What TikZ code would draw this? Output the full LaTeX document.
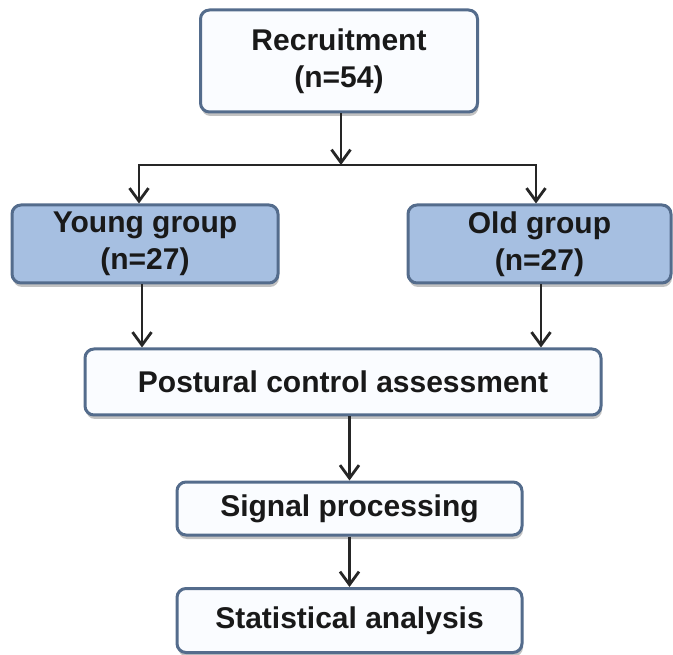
\documentclass[tikz,border=0pt]{standalone}
\usepackage{fontspec}
\setmainfont{Liberation Sans}
\usetikzlibrary{positioning, arrows.meta, shadows}

\definecolor{boxline}{RGB}{84,108,140}
\definecolor{groupfill}{RGB}{166,191,225}
\definecolor{stagefill}{RGB}{250,252,255}

\begin{document}
\begin{tikzpicture}[
    x=1pt, y=-1pt,
    % Define styles
    base/.style={rectangle, draw=boxline, line width=3pt, rounded corners=9pt, align=center,
        inner sep=0pt, text=black!90, font=\bfseries\fontsize{30}{37}\selectfont,
        drop shadow={shadow xshift=1pt, shadow yshift=-4pt, opacity=0.4, fill=black!60}},
    stage/.style={base, fill=stagefill},
    group/.style={base, fill=groupfill},
    arrow/.style={-{Straight Barb[length=13pt, width=19pt]}, line width=2.8pt, black!85}
]
    \useasboundingbox (0,0) rectangle (673,655);

    % --- TOP LEVEL ---
    \node (recruit) [stage, minimum width=277pt, minimum height=102pt] at (339,61) {Recruitment\\(n=54)};

    % --- THE SPLIT ---
    \node (young) [group, minimum width=266pt, minimum height=78pt] at (145,244) {Young group\\(n=27)};
    \node (old) [group, minimum width=263pt, minimum height=78pt] at (539.5,244) {Old group\\(n=27)};

    % --- PROCESSING LAYER ---
    \node (postural) [stage, minimum width=516pt, minimum height=66pt] at (343,382) {Postural control assessment};
    \node (signal) [stage, minimum width=345pt, minimum height=53pt] at (349.5,508.5) {Signal processing};
    \node (stats) [stage, minimum width=345pt, minimum height=64pt] at (349.5,620.5) {Statistical analysis};

    \coordinate (split) at (341,165);

    % --- DRAW CONNECTIONS ---
    \draw [arrow] ([xshift=2pt]recruit.south) -- (split);
    \draw [arrow] (split) -| ([xshift=-6pt]young.north);
    \draw [arrow] (split) -| ([xshift=-3.5pt]old.north);

    % Merging into the assessment
    \draw [arrow] ([xshift=-3pt]young.south) -- ([xshift=-3pt]young.south |- postural.north);
    \draw [arrow] ([xshift=1.5pt]old.south) -- ([xshift=1.5pt]old.south |- postural.north);

    \draw [arrow] (signal.north |- postural.south) -- (signal);
    \draw [arrow] (signal) -- (stats);

\end{tikzpicture}
\end{document}
